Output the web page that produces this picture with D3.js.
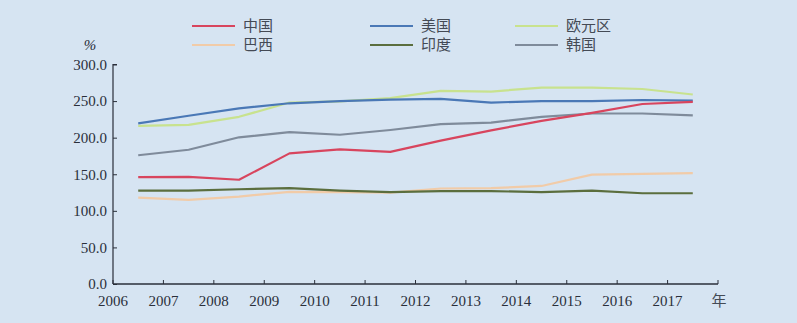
<!DOCTYPE html>
<html><head><meta charset="utf-8">
<script src="https://cdn.jsdelivr.net/npm/d3@7"></script>
<style>
html,body{margin:0;padding:0;background:#d6e4f2;}
svg{display:block;}
</style></head>
<body><svg id="c" width="797" height="323"></svg>
<script>
const years = [2006,2007,2008,2009,2010,2011,2012,2013,2014,2015,2016,2017];
const seriesNames = ["中国","美国","欧元区","巴西","印度","韩国"];
const seriesColors = ["#d8455e","#4a78b6","#c8e28e","#f1cba8","#5b6e3e","#7f8b9b"];
const china  = [146,146.5,142.5,178.5,184,180.5,196,210,223,234,246,249];
const usa    = [219.5,230,240,247,250,252,253,248,250,250,251.5,250.5];
const euro   = [216,217.5,228.5,248,249.5,254,264,263,268.5,268.5,266.5,259];
const brazil = [118,115,119.5,126,125.5,125,130.5,131,134,149.5,150.5,151.5];
const india  = [127.5,127.5,129.5,131,127.5,125.5,127,127,125.5,127.5,124,124];
const korea  = [176,183.5,200.5,207.5,204,210.5,218.5,220.5,228.5,233,233,230.5];
const seriesValues = [china,usa,euro,brazil,india,korea];
const yTicks = [0,50,100,150,200,250,300];
const xEndLabel = "年";
const yUnit = "%";

const svg = d3.select("#c");
const x = d3.scaleBand().domain(years).range([113,718]).padding(0);
const y = d3.scaleLinear().domain([0,300]).range([284,64.5]);
const serif = "'Liberation Serif','Times New Roman',serif";
const cjk = "'Noto Sans CJK SC',sans-serif";
const ink = "#2a2f3a";

// lines
const line = d3.line().x((d,i)=>x(years[i])+x.bandwidth()/2).y(d=>y(d));
const order = [3,4,5,2,1,0];
order.forEach(k=>{
  svg.append("path").attr("d",line(seriesValues[k]))
    .attr("fill","none").attr("stroke",seriesColors[k])
    .attr("stroke-width",2.2).attr("stroke-linejoin","round");
});

// y axis
const ya = svg.append("g").attr("transform","translate(113,0)")
  .call(d3.axisRight(y).tickValues(yTicks).tickSize(4).tickFormat(()=>""));
ya.select(".domain").attr("stroke",ink).attr("stroke-width",1.2).attr("d","M4,64.5H0V284");
ya.selectAll(".tick line").attr("stroke",ink);
svg.append("g").selectAll("text").data(yTicks).join("text")
  .attr("x",107).attr("y",d=>y(d)).attr("dy","0.35em").attr("text-anchor","end")
  .attr("font-family",serif).attr("font-size",15).attr("fill",ink)
  .text(d=>d3.format(".1f")(d));
svg.append("text").attr("x",90).attr("y",45).attr("dy","0.35em").attr("text-anchor","middle")
  .attr("font-family",serif).attr("font-size",15).attr("font-style","italic").attr("fill",ink).text(yUnit);

// x axis
const xTickPos = years.map(v=>x(v)).concat([718]);
svg.append("line").attr("x1",113).attr("x2",718).attr("y1",284).attr("y2",284)
  .attr("stroke",ink).attr("stroke-width",1.3);
svg.append("g").selectAll("line").data(xTickPos).join("line")
  .attr("x1",d=>d).attr("x2",d=>d).attr("y1",284).attr("y2",280).attr("stroke",ink);
svg.append("g").selectAll("text").data(years).join("text")
  .attr("x",d=>x(d)).attr("y",306).attr("text-anchor","middle")
  .attr("font-family",serif).attr("font-size",15).attr("fill",ink).text(d=>d);
svg.append("text").attr("x",719).attr("y",306).attr("text-anchor","middle")
  .attr("font-family",cjk).attr("font-size",15).attr("fill","#444a55").text(xEndLabel);

// legend
const legX = [192,370,515];
const legY = [26,45];
const lg = svg.append("g");
seriesNames.forEach((n,i)=>{
  const cx = legX[i%3], cy = legY[Math.floor(i/3)];
  lg.append("line").attr("x1",cx).attr("x2",cx+43).attr("y1",cy).attr("y2",cy)
    .attr("stroke",seriesColors[i]).attr("stroke-width",2.2);
  lg.append("text").attr("x",cx+51).attr("y",cy).attr("dy","0.36em")
    .attr("font-family",cjk).attr("font-size",15).attr("fill","#444a55").text(n);
});
</script></body></html>
